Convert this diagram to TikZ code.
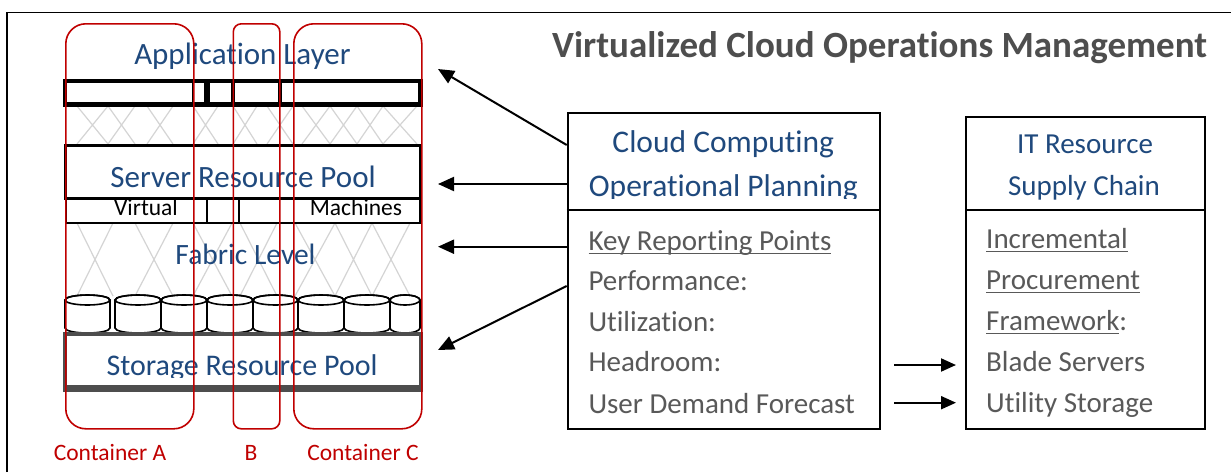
\documentclass[tikz,border=0pt]{standalone}
\usepackage{fontspec}
\setmainfont{Carlito}[Ligatures={NoCommon}]
\usetikzlibrary{arrows.meta}
\definecolor{lblue}{RGB}{31,73,125}
\definecolor{tgray}{RGB}{89,89,89}
\definecolor{hgray}{RGB}{78,78,78}
\definecolor{cred}{RGB}{192,0,0}
\definecolor{fgray}{RGB}{212,212,212}
\definecolor{sgray}{RGB}{77,77,77}
\newcommand\fs[1]{\fontsize{#1}{#1}\selectfont}
% underline set a little below the baseline, through the descenders
\newcommand\ulw[1]{\setbox0\hbox{#1}\rlap{\rule[-4pt]{\wd0}{1.3pt}}\box0}

\begin{document}
\begin{tikzpicture}[x=1pt,y=-1pt,
  lbl/.style={inner sep=0pt, anchor=base},
  lyr/.style={lbl, text=lblue, font=\fs{31}},
  body/.style={inner sep=0pt, anchor=base west, text=tgray, font=\fs{29}},
  ctr/.style={draw=cred, line width=1.6pt, inner sep=0pt, anchor=north west},
  clab/.style={lbl, text=cred, font=\fs{23.5}},
  mesh/.style={draw=fgray, line width=1.2pt},
  arr/.style={line width=2pt, -{Triangle[length=16pt,width=14pt]}},
  box/.style={draw, line width=2pt, inner sep=0pt, anchor=north west}]

\useasboundingbox (0,0) rectangle (1231,472);
\fill[white] (0,0) rectangle (1231,472);

% frame
\draw[line width=1.5pt] (7,472) -- (7,12.5) -- (1231,12.5);

% heading
\node[lbl, anchor=base west, text=hgray, font=\fs{37}\bfseries] (title) at (552,57)
  {Virtualized Cloud Operations Management};

% switch mesh between application bar and servers
\foreach \a/\b in {77/108,108/135,147/173,193/218,233/257,267/293,302/330,330/357,357/383,383/417}
  \draw[mesh] (\a,106) -- (\b,144) (\b,106) -- (\a,144);

% fabric mesh between virtual machines and disks
\foreach \a/\b in {77/113,135/173,193/232,240/277,295/335,335/372,372/410}
  \draw[mesh] (\a,223) -- (\b,296) (\b,223) -- (\a,296);

% application bar
\fill (63,78.5) rectangle (423,106.5);
\foreach \l/\r in {66.7/191.7,194.3/204.3,210/231,235/277.7,281.7/418.3}
  \fill[white] (\l,82.7) rectangle (\r,102.3);
\node[lyr] (app) at (242.5,64) {Application Layer};

% server resource pool
\draw[line width=2.7pt] (65.3,145.7) rectangle (420.7,198.7);
\node[lyr] (srv) at (243,187) {Server Resource Pool};

% virtual machine row
\draw[line width=1.5pt] (66,199) rectangle (420,223);
\draw[line width=1.5pt] (207,199) -- (207,223) (239,199) -- (239,223);
\node[lbl, font=\fs{23.5}] (vm1) at (146,215) {Virtual};
\node[lbl, font=\fs{23.5}] (vm2) at (356,215) {Machines};

\node[lyr, font=\fs{29.5}] (fab) at (245.5,264) {Fabric Level};

% disks
\foreach \l/\r in {65/110,115/161,161/207,207/253,253/298,298/344,344/390,390/420} {
  \pgfmathsetmacro\c{(\l+\r)/2}
  \pgfmathsetmacro\rx{(\r-\l)/2}
  \filldraw[fill=white, line width=1.6pt] (\l,300) -- (\l,328)
    arc[start angle=180, end angle=0, x radius=\rx, y radius=5] -- (\r,300)
    arc[start angle=0, end angle=-180, x radius=\rx, y radius=5] -- cycle;
  \draw[line width=1.6pt] (\c,300) ellipse[x radius=\rx, y radius=5];
}

% storage resource pool
\fill[sgray] (63,331.5) rectangle (423,391.5);
\fill[white] (67,335.5) rectangle (418.5,385);
\begin{scope}
  \clip (60,330) rectangle (430,377);
  \node[lyr, font=\fs{30}] (sto) at (242,375) {Storage Resource Pool};
\end{scope}

% containers
\node[ctr, rounded corners=20pt, minimum width=128pt, minimum height=405pt] (ca) at (65,23) {};
\node[ctr, rounded corners=8pt, minimum width=46.5pt, minimum height=405pt] (cb) at (232.5,23) {};
\node[ctr, rounded corners=20pt, minimum width=128pt, minimum height=405pt] (cc) at (293,23) {};
\node[clab] (la) at (110,460.7) {Container A};
\node[clab] (lb) at (251,460.7) {B};
\node[clab] (lc) at (363,460.7) {Container C};

% operational planning box
\node[box, minimum width=312.6pt, minimum height=316.6pt] (plan) at (566.7,111.7) {};
\coordinate (pd) at (566.7,210);
\draw[line width=2pt] (pd) -- (pd -| plan.east);
\node[lbl, text=lblue, font=\fs{31.5}] (pt1) at (723.3,152.7) {Cloud Computing};
\begin{scope}
  \clip (560,160) rectangle (885,198.5);
  \node[lbl, text=lblue, font=\fs{31.5}] (pt2) at (723.3,196) {Operational Planning};
\end{scope}
\node[body] (k1) at (588.3,250) {\ulw{Key Reporting Points}};
\node[body] (k2) at (588.3,290.5) {Performance:};
\node[body] (k3) at (588.3,331) {Utilization:};
\node[body] (k4) at (588.3,371.7) {Headroom:};
\node[body] (k5) at (588.3,413) {User Demand Forecast};

% supply chain box
\node[box, minimum width=239.3pt, minimum height=312.3pt] (sup) at (965,116) {};
\coordinate (sd) at (965,210);
\draw[line width=2pt] (sd) -- (sd -| sup.east);
\node[lbl, text=lblue, font=\fs{29}] (st1) at (1085,153.3) {IT Resource};
\node[lbl, text=lblue, font=\fs{29}] (st2) at (1084,195) {Supply Chain};
\node[body] (s1) at (986,248.3) {\ulw{Incremental}};
\node[body] (s2) at (986,289.3) {\ulw{Procurement}};
\node[body] (s3) at (986,330) {\ulw{Framework}:};
\node[body] (s4) at (986,371) {Blade Servers};
\node[body] (s5) at (986,412.7) {Utility Storage};

% arrows from planning to the layers
\coordinate (a1s) at (566.7,145);   \coordinate (a1t) at (438,69);
\coordinate (a2s) at (566.7,184);   \coordinate (a2t) at (438,184);
\coordinate (a3s) at (566.7,246.7); \coordinate (a3t) at (438,246.7);
\coordinate (a4s) at (566.7,286);   \coordinate (a4t) at (438,350);
\draw[arr] (a1s) -- (a1t);
\draw[arr] (a2s) -- (a2t);
\draw[arr] (a3s) -- (a3t);
\draw[arr] (a4s) -- (a4t);

% arrows into the supply chain
\coordinate (b1s) at (894,365); \coordinate (b1t) at (956,365);
\coordinate (b2s) at (894,402.7); \coordinate (b2t) at (956,402.7);
\draw[arr, -{Triangle[length=15pt,width=13pt]}] (b1s) -- (b1t);
\draw[arr, -{Triangle[length=15pt,width=13pt]}] (b2s) -- (b2t);
\end{tikzpicture}
\end{document}
